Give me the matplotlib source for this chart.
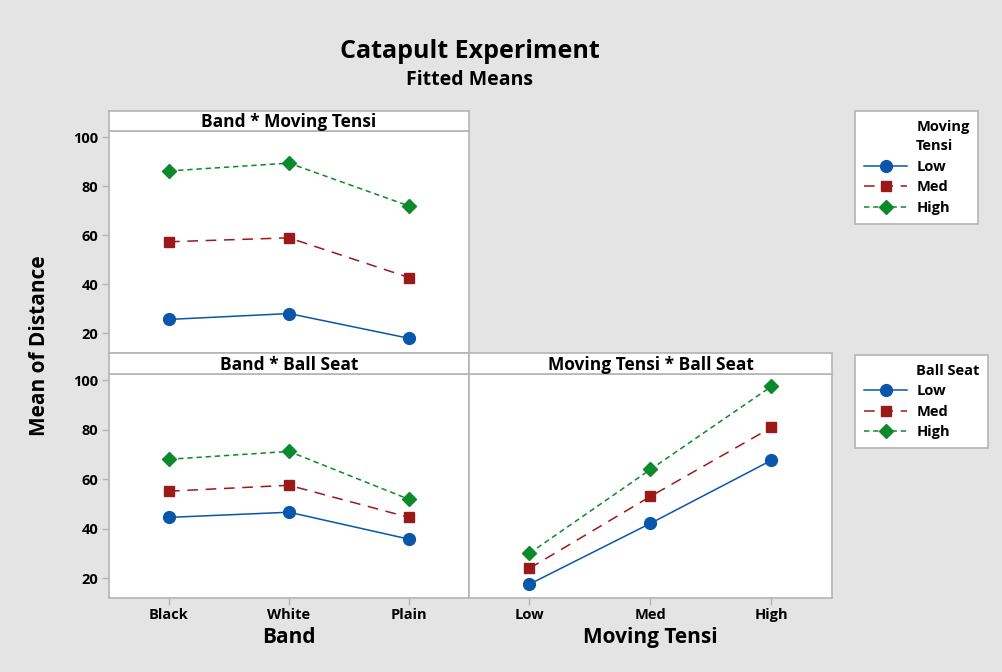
import matplotlib.pyplot as plt
from matplotlib.lines import Line2D

plt.rcParams['font.family'] = ['Open Sans', 'DejaVu Sans']

# data
band_levels = ["Black", "White", "Plain"]
tensi_levels = ["Low", "Med", "High"]
series_names = ["Low", "Med", "High"]

band_x_tensi = {
    "Low": [25.7, 28.1, 18.0],
    "Med": [57.4, 59.0, 42.8],
    "High": [86.3, 89.5, 72.0],
}
band_x_seat = {
    "Low": [44.6, 46.7, 35.8],
    "Med": [55.2, 57.6, 44.6],
    "High": [68.1, 71.3, 51.9],
}
tensi_x_seat = {
    "Low": [17.6, 42.2, 67.7],
    "Med": [24.0, 53.1, 81.0],
    "High": [30.1, 64.0, 97.6],
}
y_ticks = [20, 40, 60, 80, 100]

styles = {
    "Low": dict(color="#0a56ab", marker="o", markersize=8.5, linestyle="-"),
    "Med": dict(color="#9a1a1a", marker="s", markersize=7.5, linestyle=(0, (7, 5))),
    "High": dict(color="#0a8a2a", marker="D", markersize=7, linestyle=(0, (3.5, 2.5))),
}

BG = "#e4e4e4"
EDGE = "#b4b4b4"
W, H = 1003, 672

fig = plt.figure(figsize=(W / 100, H / 100), dpi=100, facecolor=BG)


def fx(px):
    return px / W


def fy(py):
    return 1 - py / H


def make_panel(x0, x1, y0, y1, strip_top, title):
    ax = fig.add_axes([fx(x0), fy(y1), fx(x1) - fx(x0), fy(y0) - fy(y1)])
    ax.set_facecolor("white")
    for s in ax.spines.values():
        s.set_color(EDGE)
        s.set_linewidth(1.2)
    ax.set_xlim(-0.5, 2.5)
    ax.set_ylim(12.0, 102.6)
    ax.tick_params(colors=EDGE, length=5, width=1, labelcolor="black", labelsize=10.5, pad=2.5)
    st = fig.add_axes([fx(x0), fy(y0), fx(x1) - fx(x0), fy(strip_top) - fy(y0)])
    st.set_facecolor("white")
    st.set_xticks([])
    st.set_yticks([])
    for s in st.spines.values():
        s.set_color(EDGE)
        s.set_linewidth(1.2)
    st.text(0.5, 0.45, title, ha="center", va="center", fontsize=12.5,
            fontweight="bold", transform=st.transAxes)
    return ax


def draw(ax, data):
    for name in series_names:
        ax.plot(range(3), data[name], linewidth=1.1, **styles[name])


ax1 = make_panel(109, 469, 131, 353, 111, "Band * Moving Tensi")
ax2 = make_panel(109, 469, 374, 598, 353, "Band * Ball Seat")
ax3 = make_panel(469, 832, 374, 598, 353, "Moving Tensi * Ball Seat")

draw(ax1, band_x_tensi)
draw(ax2, band_x_seat)
draw(ax3, tensi_x_seat)

for ax in (ax1, ax2):
    ax.set_yticks(y_ticks)
    for lab in ax.get_yticklabels():
        lab.set_fontweight("bold")
ax1.set_xticks([])
ax3.set_yticks([])

ax2.set_xticks(range(3))
ax2.set_xticklabels(band_levels, fontweight="bold")
ax3.set_xticks(range(3))
ax3.set_xticklabels(tensi_levels, fontweight="bold")
ax2.set_xlabel("Band", fontsize=15, fontweight="bold", labelpad=3)
ax3.set_xlabel("Moving Tensi", fontsize=15, fontweight="bold", labelpad=3)

fig.text(fx(40), fy(346), "Mean of Distance", rotation=90, ha="center", va="center",
         fontsize=15, fontweight="bold")
fig.text(fx(470), fy(51), "Catapult Experiment", ha="center", va="center",
         fontsize=18, fontweight="bold")
fig.text(fx(470), fy(80), "Fitted Means", ha="center", va="center",
         fontsize=14, fontweight="bold")


def add_legend(title, top):
    handles = [Line2D([], [], linestyle="none")]
    labels = [title]
    for name in series_names:
        handles.append(Line2D([], [], linewidth=1.1, **styles[name]))
        labels.append(name)
    leg = fig.legend(handles, labels, loc="upper left", bbox_to_anchor=(fx(855), fy(top)),
                     bbox_transform=fig.transFigure, borderaxespad=0,
                     handlelength=3.0, frameon=True, fancybox=False, framealpha=1,
                     facecolor="white", labelspacing=0.45,
                     handletextpad=0.6, borderpad=0.6, prop={"weight": "bold", "size": 10.5})
    leg.get_frame().set_edgecolor(EDGE)
    leg.get_frame().set_linewidth(1.2)
    for t in leg.get_texts()[:1]:
        t.set_linespacing(1.5)
    return leg


add_legend("Moving\nTensi", 111)
add_legend("Ball Seat", 355)

fig.savefig("out.png", dpi=100, facecolor=BG)
